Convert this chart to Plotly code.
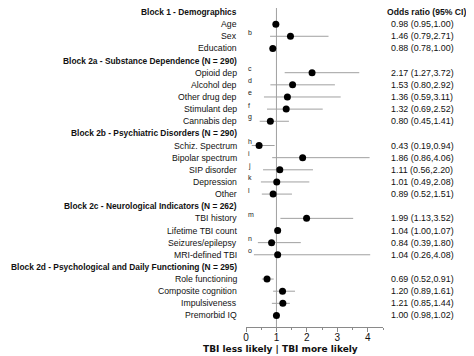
import plotly.graph_objects as go

labels = [
    "Block 1 - Demographics", "Age", "Sex", "Education",
    "Block 2a - Substance Dependence (N = 290)", "Opioid dep", "Alcohol dep",
    "Other drug dep", "Stimulant dep", "Cannabis dep",
    "Block 2b - Psychiatric Disorders (N = 290)", "Schiz. Spectrum",
    "Bipolar spectrum", "SIP disorder", "Depression", "Other",
    "Block 2c - Neurological Indicators (N = 262)", "TBI history",
    "Lifetime TBI count", "Seizures/epilepsy", "MRI-defined TBI",
    "Block 2d - Psychological and Daily Functioning (N = 295)",
    "Role functioning", "Composite cognition", "Impulsiveness", "Premorbid IQ",
]
notes = [
    "", "", "b", "",
    "", "c", "d", "e", "f", "g",
    "", "h", "i", "j", "k", "l",
    "", "m", "", "n", "o",
    "", "", "", "", "",
]
odds = [
    None, 0.98, 1.46, 0.88,
    None, 2.17, 1.53, 1.36, 1.32, 0.80,
    None, 0.43, 1.86, 1.11, 1.01, 0.89,
    None, 1.99, 1.04, 0.84, 1.04,
    None, 0.69, 1.20, 1.21, 1.00,
]
ci_low = [
    None, 0.95, 0.79, 0.78,
    None, 1.27, 0.80, 0.59, 0.69, 0.45,
    None, 0.19, 0.86, 0.56, 0.49, 0.52,
    None, 1.13, 1.00, 0.39, 0.26,
    None, 0.52, 0.89, 0.85, 0.98,
]
ci_high = [
    None, 1.00, 2.71, 1.00,
    None, 3.72, 2.92, 3.11, 2.52, 1.41,
    None, 0.94, 4.06, 2.20, 2.08, 1.51,
    None, 3.52, 1.07, 1.80, 4.08,
    None, 0.91, 1.61, 1.44, 1.02,
]
x_ticks = [0, 1, 2, 3, 4]
x_title = "TBI less likely | TBI more likely"
col_title = "Odds ratio (95% CI)"

FONT = "Liberation Sans, Arial, sans-serif"
XMAX = 4.5

rows = list(range(len(labels)))
pts = [(r, o, l, h) for r, o, l, h in zip(rows, odds, ci_low, ci_high) if o is not None]


def px(xval):
    # data x -> paper fraction (annotations outside the axis range)
    return xval / XMAX


fig = go.Figure()
fig.add_trace(go.Scatter(
    x=[p[1] for p in pts],
    y=[p[0] for p in pts],
    mode="markers",
    marker=dict(color="black", size=7),
    error_x=dict(
        type="data", symmetric=False,
        array=[p[3] - p[1] for p in pts],
        arrayminus=[p[1] - p[2] for p in pts],
        color="#a0a0a0", thickness=1, width=0,
    ),
    showlegend=False, hoverinfo="skip",
))

fig.add_shape(type="line", xref="x", yref="paper", x0=1, x1=1, y0=0, y1=1,
              line=dict(color="#a0a0a0", width=1), layer="below")

ann = []
for r, lab, n, o, l, h in zip(rows, labels, notes, odds, ci_low, ci_high):
    heading = o is None
    ann.append(dict(
        x=px(-0.23), y=r, xref="paper", yref="y", xanchor="right", yanchor="middle",
        text=f"<b>{lab}</b>" if heading else lab, showarrow=False,
        font=dict(family=FONT, size=8.4 if heading else 8.7, color="#111"),
    ))
    if n:
        ann.append(dict(
            x=px(0.0), y=r, xref="paper", yref="y", xanchor="left", yanchor="middle",
            yshift=4, text=n, showarrow=False,
            font=dict(family=FONT, size=7, color="#222"),
        ))
    if not heading:
        ann.append(dict(
            x=px(4.70), y=r, xref="paper", yref="y", xanchor="left", yanchor="middle",
            text=f"{o:.2f} ({l:.2f},{h:.2f})", showarrow=False,
            font=dict(family=FONT, size=8.9, color="#111"),
        ))
ann.append(dict(x=px(4.57), y=0, xref="paper", yref="y", xanchor="left", yanchor="middle",
                text=f"<b>{col_title}</b>", showarrow=False,
                font=dict(family=FONT, size=8.6, color="#111")))
ann.append(dict(x=px(7.33), y=1, xref="paper", yref="paper", xanchor="left", yanchor="top",
                text="a", showarrow=False,
                font=dict(family=FONT, size=6, color="#888")))
ann.append(dict(x=px(1.12), y=0, xref="paper", yref="paper", xanchor="center", yanchor="top",
                yshift=-15, text=f"<b>{x_title}</b>", showarrow=False,
                font=dict(family="DejaVu Sans, Verdana, sans-serif", size=9, color="#111")))

fig.update_layout(
    width=466, height=348,
    margin=dict(l=238, r=91, t=0, b=29, pad=0),
    paper_bgcolor="white", plot_bgcolor="white",
    annotations=ann,
    xaxis=dict(
        range=[0, XMAX], tickvals=x_ticks, ticktext=[str(t) for t in x_ticks],
        showgrid=False, zeroline=False, showline=True, linecolor="#8a8a8a", linewidth=1,
        ticks="outside", ticklen=4, tickcolor="#8a8a8a", tickwidth=1,
        ticklabelstandoff=-3,
        minor=dict(dtick=0.5, ticks="outside", ticklen=2, tickcolor="#8a8a8a", showgrid=False),
        tickfont=dict(family=FONT, size=10, color="#111"),
    ),
    yaxis=dict(range=[25.95, -0.33], visible=False),
)

fig.write_html("out.html")
